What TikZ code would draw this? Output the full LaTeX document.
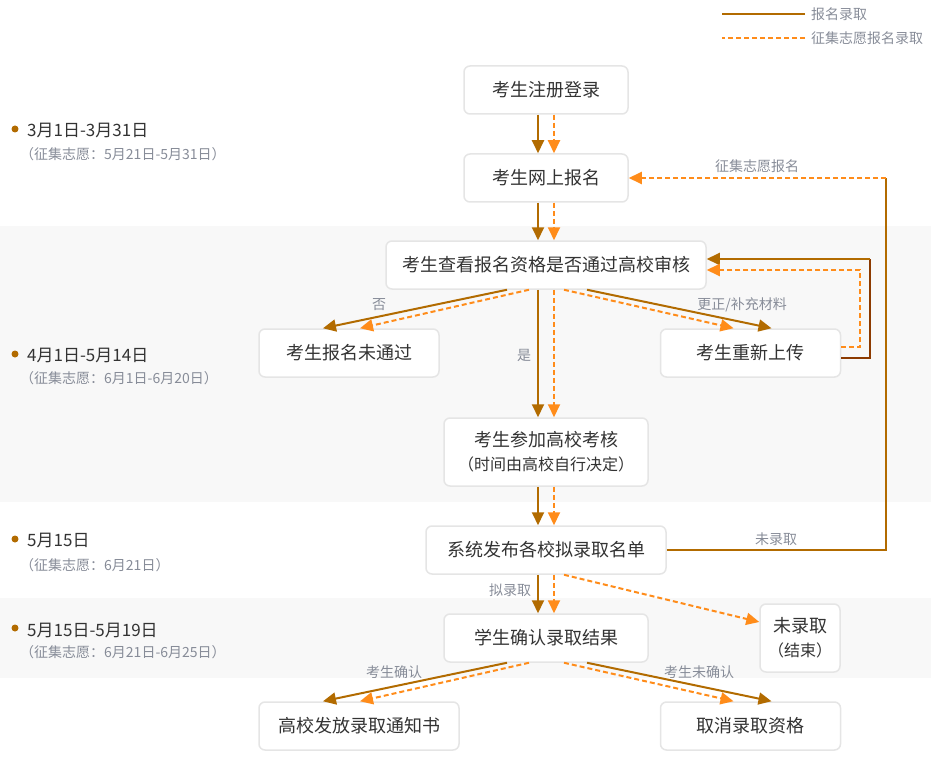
\documentclass[tikz,border=0pt]{standalone}
\usepackage{fontspec}
\setmainfont{Noto Sans CJK SC}
\usepackage{xcolor}
\usepackage{tikz}
\definecolor{admitbrown}{RGB}{178, 107, 0}
\definecolor{loopbrown}{RGB}{140, 58, 0}
\definecolor{extraorange}{RGB}{255, 140, 26}
\definecolor{boxgray}{RGB}{229, 229, 229}
\definecolor{bandgray}{RGB}{248, 248, 248}
\definecolor{textdark}{RGB}{51, 51, 51}
\definecolor{labelgray}{RGB}{135, 140, 152}
\usetikzlibrary{arrows.meta, positioning}

\begin{document}
\begin{tikzpicture}[x=1pt, y=-1pt,
    stepbox/.style={draw=boxgray, fill=white, line width=1.5pt, rounded corners=6pt,
          minimum height=48pt, inner sep=0pt, align=center, text=textdark,
          font=\fontsize{18}{24}\selectfont},
    solidline/.style={draw=admitbrown, line width=2pt},
    dashline/.style={draw=extraorange, line width=2pt, dash pattern=on 5pt off 3pt},
    solidarr/.style={solidline, -{Triangle[length=13pt, width=12pt]}},
    dasharr/.style={dashline, -{Triangle[length=13pt, width=12pt]}},
    loopline/.style={draw=loopbrown, line width=2pt},
    lbl/.style={text=labelgray, font=\fontsize{14}{16}\selectfont, inner sep=1pt},
    datemain/.style={anchor=west, text=textdark, font=\fontsize{17}{20}\selectfont, inner sep=0pt},
    datesub/.style={anchor=west, text=labelgray, font=\fontsize{14}{16}\selectfont, inner sep=0pt},
    dot/.style={circle, fill=admitbrown, inner sep=0pt, minimum size=7pt}
]
    \path[use as bounding box] (0,0) rectangle (931,770);
    \fill[bandgray] (0,226) rectangle (931,502);
    \fill[bandgray] (0,598) rectangle (931,678);

    % legend
    \node[lbl, anchor=west] (legadmit) at (810,14) {报名录取};
    \draw[solidline] ([xshift=-5pt]legadmit.west) -- ++(-83,0);
    \node[lbl, anchor=west] (legextra) at (810,38) {征集志愿报名录取};
    \draw[dashline] ([xshift=-5pt]legextra.west) -- ++(-83,0);

    % timeline
    \node[dot] (d1) at (15,129) {};
    \node[datemain] (t1) at (27,130) {3月1日-3月31日};
    \node[datesub] (s1) at (20,154) {（征集志愿：5月21日-5月31日）};
    \node[dot] (d2) at (15,354) {};
    \node[datemain] (t2) at (27,355) {4月1日-5月14日};
    \node[datesub] (s2) at (20,378) {（征集志愿：6月1日-6月20日）};
    \node[dot] (d3) at (15,539) {};
    \node[datemain] (t3) at (27,540) {5月15日};
    \node[datesub] (s3) at (20,565) {（征集志愿：6月21日）};
    \node[dot] (d4) at (15,628) {};
    \node[datemain] (t4) at (27,630) {5月15日-5月19日};
    \node[datesub] (s4) at (20,652) {（征集志愿：6月21日-6月25日）};

    % steps
    \node[stepbox, minimum width=164pt] (reg) at (546,90) {考生注册登录};
    \node[stepbox, minimum width=164pt] (apply) at (546,178) {考生网上报名};
    \node[stepbox, minimum width=320pt] (check) at (546,265) {考生查看报名资格是否通过高校审核};
    \node[stepbox, minimum width=180pt] (fail) at (349,353) {考生报名未通过};
    \node[stepbox, minimum width=180pt] (redo) at (750.5,353) {考生重新上传};
    \node[stepbox, minimum width=204pt, minimum height=68pt] (exam) at (546,452)
        {考生参加高校考核\\{\fontsize{16}{24}\selectfont （时间由高校自行决定）}};
    \node[stepbox, minimum width=240pt] (publish) at (546,550) {系统发布各校拟录取名单};
    \node[stepbox, minimum width=204pt] (confirm) at (546,638) {学生确认录取结果};
    \node[stepbox, minimum width=80pt, minimum height=68pt] (noadmit) at (800,638)
        {未录取\\{\fontsize{16}{24}\selectfont （结束）}};
    \node[stepbox, minimum width=200pt] (notice) at (359,726) {高校发放录取通知书};
    \node[stepbox, minimum width=180pt] (cancel) at (750.5,726) {取消录取资格};

    % main flow
    \draw[solidarr] ([xshift=-8pt]reg.south) -- ([xshift=-8pt]apply.north);
    \draw[dasharr] ([xshift=8pt]reg.south) -- ([xshift=8pt]apply.north);
    \draw[solidarr] ([xshift=-8pt]apply.south) -- ([xshift=-8pt]check.north);
    \draw[dasharr] ([xshift=8pt]apply.south) -- ([xshift=8pt]check.north);

    \draw[solidarr] ([xshift=-39pt]check.south) -- ([xshift=-26pt]fail.north);
    \draw[dasharr] ([xshift=-17pt]check.south) -- ([xshift=11pt]fail.north);
    \draw[dasharr] ([xshift=18pt]check.south) -- ([xshift=-17pt]redo.north);
    \draw[solidarr] ([xshift=41pt]check.south) -- ([xshift=21pt]redo.north);
    \draw[solidarr] ([xshift=-8pt]check.south) -- ([xshift=-8pt]exam.north);
    \draw[dasharr] ([xshift=8pt]check.south) -- ([xshift=8pt]exam.north);

    % resubmit loop
    \coordinate (looptop) at (870,259);
    \draw[loopline] ([yshift=-5pt]redo.east) -| (looptop);
    \draw[solidarr] (looptop) -- ([yshift=6pt]check.east);
    \draw[dasharr] ([yshift=6pt]redo.east) -- ++(19,0) |- ([yshift=-5pt]check.east);

    \draw[solidarr] ([xshift=-8pt]exam.south) -- ([xshift=-8pt]publish.north);
    \draw[dasharr] ([xshift=8pt]exam.south) -- ([xshift=8pt]publish.north);
    \draw[solidarr] ([xshift=-8pt]publish.south) -- ([xshift=-8pt]confirm.north);
    \draw[dasharr] ([xshift=8pt]publish.south) -- ([xshift=8pt]confirm.north);
    \draw[dasharr] ([xshift=18pt]publish.south) -- ([yshift=16pt]noadmit.west);

    % recall loop
    \coordinate (recalltop) at (886,178);
    \draw[solidline] (publish.east) -| (recalltop);
    \draw[dasharr] (recalltop) -- (apply.east);

    \draw[solidarr] ([xshift=-39pt]confirm.south) -- ([xshift=-36pt]notice.north);
    \draw[dasharr] ([xshift=-17pt]confirm.south) -- ([xshift=1pt]notice.north);
    \draw[dasharr] ([xshift=18pt]confirm.south) -- ([xshift=-17pt]cancel.north);
    \draw[solidarr] ([xshift=41pt]confirm.south) -- ([xshift=21pt]cancel.north);

    % labels
    \node[lbl] (lno) at (379,305) {否};
    \node[lbl] (lyes) at (524,355) {是};
    \node[lbl] (lfix) at (742,305) {更正/补充材料};
    \node[lbl] (lrecall) at (757,166) {征集志愿报名};
    \node[lbl] (lreject) at (776,539) {未录取};
    \node[lbl] (lpre) at (510,590) {拟录取};
    \node[lbl] (lyesconf) at (394,672) {考生确认};
    \node[lbl] (lnoconf) at (699,672) {考生未确认};
\end{tikzpicture}
\end{document}
